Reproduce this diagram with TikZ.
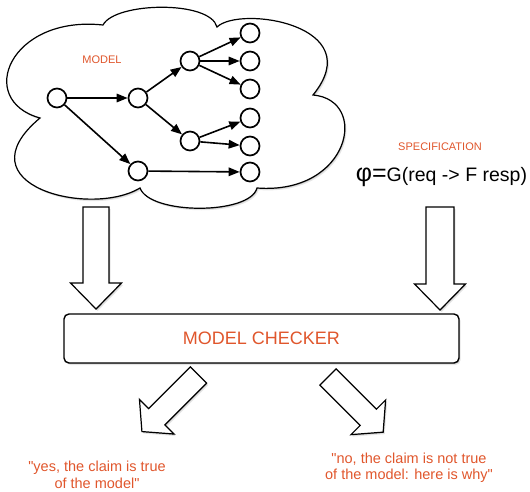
\documentclass[tikz,border=0pt]{standalone}
\usepackage{fontspec}
\setmainfont{Liberation Sans}
\usetikzlibrary{arrows.meta, shadows}
\definecolor{labelred}{RGB}{224,86,44}
% straight double quote, kept out of the TeX ligature mapping
\newcommand{\dq}{\XeTeXglyph\XeTeXcharglyph"22\relax}
% block arrow: length, half shaft, half head, head length
\newcommand{\fatarrow}[4]{%
\draw[fatarrow] (-#2,0) -- (-#2,#1-#4) -- (-#3,#1-#4) -- (0,#1) -- (#3,#1-#4) -- (#2,#1-#4) -- (#2,0) -- cycle;}

\begin{document}
\begin{tikzpicture}[x=1pt,y=-1pt,>={Triangle[length=11pt,width=8.5pt]},
  state/.style={circle,draw,line width=1.7pt,minimum size=19pt,inner sep=0pt,fill=white},
  edge/.style={->,line width=1.6pt},
  softshadow/.style={drop shadow={shadow xshift=0.7pt,shadow yshift=-0.9pt,opacity=0.18,fill=black},
    drop shadow={shadow xshift=1.6pt,shadow yshift=-2pt,opacity=0.1,fill=black}},
  fatarrow/.style={draw,fill=white,line width=1.2pt,line join=miter,softshadow},
  checker/.style={draw,fill=white,rounded corners=5pt,minimum width=395pt,minimum height=49pt,
    line width=1.4pt,softshadow,text=labelred,font=\fontsize{18}{20}\selectfont},
  tag/.style={text=labelred,font=\fontsize{11}{13}\selectfont},
  answer/.style={text=labelred,font=\fontsize{14.5}{16.5}\selectfont,align=center}]
\useasboundingbox (0,0) rectangle (530,492);

% the model
\draw[line width=1.2pt,fill=white,softshadow] (40,118) .. controls (-25,100) and (10,15) .. (103,25)
  .. controls (115,2) and (210,0) .. (217,27)
  .. controls (240,5) and (370,25) .. (313,95)
  .. controls (370,100) and (350,195) .. (257,188)
  .. controls (250,215) and (150,215) .. (140,188)
  .. controls (90,218) and (-40,185) .. (40,118) -- cycle;
\node[tag](ML) at (102,60){MODEL};

\node[state](N0) at (57,98){};
\node[state](N1) at (138,98){};
\node[state](N2) at (190,61){};
\node[state](N3) at (190,141){};
\node[state](N4) at (138,171){};
\node[state](L1) at (250,33){};
\node[state](L2) at (250,61){};
\node[state](L3) at (250,89){};
\node[state](L4) at (250,118){};
\node[state](L5) at (250,146){};
\node[state](L6) at (250,172){};
\draw[edge](N0)--(N1);
\draw[edge](N0)--(N4);
\draw[edge](N1)--(N2);
\draw[edge](N1)--(N3);
\draw[edge](N2)--(L1);
\draw[edge](N2)--(L2);
\draw[edge](N2)--(L3);
\draw[edge](N3)--(L4);
\draw[edge](N3)--(L5);
\draw[edge](N4)--(L6);

% the specification
\node[tag](SL) at (440,147){SPECIFICATION};
\node[font=\fontsize{19.5}{22}\selectfont](PHI) at (441.5,177){{\fontsize{25}{25}\selectfont φ=}G(req -> F resp)};

% arrows into the checker
\begin{scope}[shift={(96,207)}]
\fatarrow{102}{13}{25.5}{26}
\end{scope}
\begin{scope}[shift={(440,207)}]
\fatarrow{103}{14}{25.5}{26}
\end{scope}

\node[checker](MC) at (261.5,338.5){MODEL CHECKER};

% arrows out of the checker
\begin{scope}[shift={(198.5,375)},rotate=-45]
\fatarrow{80}{11.5}{24.5}{21}
\end{scope}
\begin{scope}[shift={(328,377)},rotate=45]
\fatarrow{78}{11.5}{24.5}{21}
\end{scope}

\node[answer](YES) at (97,475){\dq yes, the claim is true\\of the model\dq};
\node[answer](NO) at (409,467.5){\dq no, the claim is not true\\of the model: here is why\dq};
\end{tikzpicture}
\end{document}
